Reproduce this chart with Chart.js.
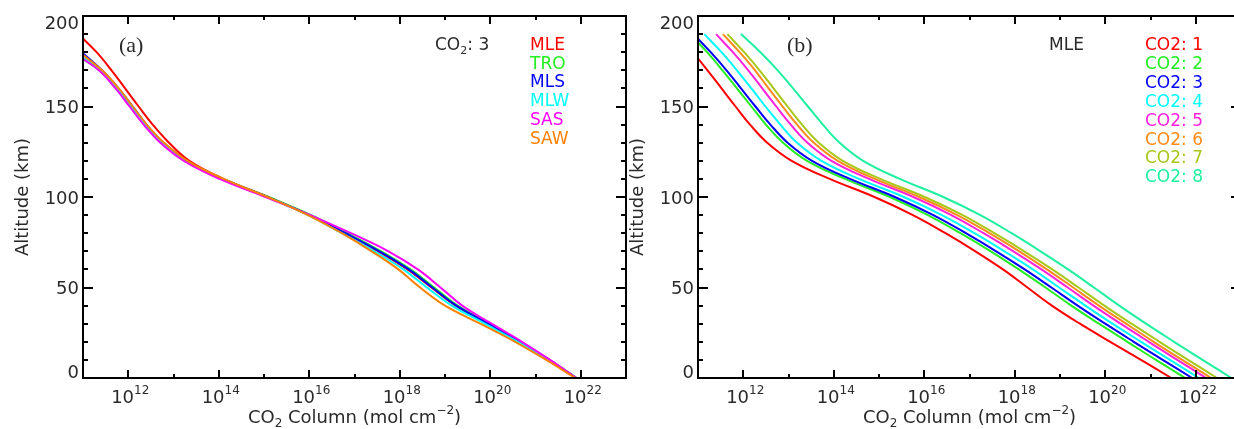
<!DOCTYPE html>
<html>
<head>
<meta charset="utf-8">
<script src="https://cdn.jsdelivr.net/npm/chart.js@4/dist/chart.umd.min.js"></script>
<style>
    html, body { margin: 0; padding: 0; background: #fff; overflow: hidden; width: 1234px; height: 429px; }
    #left-chart { position: absolute; left: 0; top: 0; }
    #right-chart { position: absolute; left: 628px; top: 0; }
</style>
</head>
<body>
<canvas id="left-chart" width="628" height="429"></canvas>
<canvas id="right-chart" width="652" height="429"></canvas>
<script>
// CO2 column vs altitude, two panels: (a) atmospheres at CO2 scenario 3, (b) MLE at CO2 scenarios 1-8

// Altitude grid (km), shared by every curve
const ALTITUDES = [190, 180, 170, 160, 150, 140, 130, 120, 110, 100, 90, 80, 70, 60, 50, 40, 30, 20, 10, 0];

// Column values stored as log10(mol cm^-2), one per altitude above
const ATMOS_NAMES = ['MLE', 'TRO', 'MLS', 'MLW', 'SAS', 'SAW'];
const ATMOS_COLORS = ['#ff0000', '#22ee22', '#0000ff', '#00ffff', '#ff00ff', '#ff8000'];
const colMLE = [10.9, 11.3, 11.63, 11.93, 12.23, 12.54, 12.9, 13.35, 14.1, 15.08, 16.0, 16.78, 17.52, 18.17, 18.7, 19.23, 19.93, 20.64, 21.29, 21.9];
const colTRO = [10.38, 10.78, 11.36, 11.73, 12.05, 12.36, 12.74, 13.27, 14.09, 15.1, 16.04, 16.84, 17.59, 18.24, 18.76, 19.28, 19.97, 20.67, 21.31, 21.91];
const colMLS = [10.52, 10.97, 11.42, 11.78, 12.1, 12.4, 12.77, 13.29, 14.09, 15.08, 16.0, 16.8, 17.55, 18.2, 18.72, 19.25, 19.95, 20.65, 21.3, 21.9];
const colMLW = [10.45, 10.88, 11.39, 11.75, 12.07, 12.38, 12.75, 13.27, 14.07, 15.06, 15.97, 16.72, 17.44, 18.08, 18.6, 19.15, 19.88, 20.61, 21.28, 21.89];
const colSAS = [10.4, 10.8, 11.35, 11.72, 12.03, 12.34, 12.71, 13.23, 14.02, 15.03, 16.02, 16.92, 17.75, 18.4, 18.9, 19.38, 20.03, 20.7, 21.32, 21.9];
const colSAW = [10.5, 10.93, 11.42, 11.79, 12.1, 12.41, 12.79, 13.31, 14.11, 15.08, 15.97, 16.72, 17.38, 17.97, 18.45, 19.0, 19.78, 20.55, 21.24, 21.88];

const CO2_NAMES = ['CO2: 1', 'CO2: 2', 'CO2: 3', 'CO2: 4', 'CO2: 5', 'CO2: 6', 'CO2: 7', 'CO2: 8'];
const CO2_COLORS = ['#ff0000', '#22ee22', '#0000ff', '#00ffff', '#ff22dd', '#ff8a1a', '#a8c81a', '#1ef0a0'];
const co2s1 = [10.5, 10.88, 11.21, 11.52, 11.83, 12.15, 12.53, 13.07, 13.91, 14.9, 15.75, 16.47, 17.13, 17.74, 18.28, 18.82, 19.44, 20.11, 20.79, 21.46];
const co2s2 = [10.82, 11.2, 11.54, 11.86, 12.18, 12.5, 12.88, 13.41, 14.25, 15.24, 16.08, 16.8, 17.47, 18.09, 18.68, 19.25, 19.86, 20.49, 21.12, 21.77];
const co2s3 = [10.9, 11.28, 11.63, 11.95, 12.27, 12.6, 12.98, 13.52, 14.36, 15.35, 16.2, 16.92, 17.59, 18.22, 18.81, 19.39, 20.0, 20.63, 21.27, 21.92];
const co2s4 = [11.14, 11.52, 11.86, 12.18, 12.49, 12.82, 13.19, 13.73, 14.56, 15.55, 16.39, 17.11, 17.77, 18.4, 18.98, 19.56, 20.16, 20.79, 21.43, 22.07];
const co2s5 = [11.4, 11.77, 12.11, 12.42, 12.73, 13.05, 13.42, 13.95, 14.78, 15.76, 16.6, 17.31, 17.97, 18.59, 19.17, 19.74, 20.34, 20.96, 21.59, 22.23];
const co2s6 = [11.55, 11.92, 12.26, 12.56, 12.87, 13.19, 13.56, 14.09, 14.91, 15.89, 16.73, 17.44, 18.1, 18.71, 19.29, 19.86, 20.46, 21.07, 21.7, 22.34];
const co2s7 = [11.65, 12.02, 12.36, 12.67, 12.98, 13.3, 13.67, 14.2, 15.03, 16.01, 16.85, 17.55, 18.21, 18.83, 19.41, 19.98, 20.58, 21.2, 21.83, 22.47];
const co2s8 = [11.95, 12.38, 12.76, 13.1, 13.43, 13.76, 14.13, 14.65, 15.46, 16.42, 17.24, 17.93, 18.57, 19.18, 19.75, 20.31, 20.9, 21.52, 22.15, 22.79];

// Axes
const X_MIN_EXP = 11;
const X_MAX_EXP = 23;
const X_LABEL_EXPS = [12, 14, 16, 18, 20, 22];
const Y_TICKS = [0, 50, 100, 150, 200];

const FONT = '"DejaVu Sans", sans-serif';
const TEXT_COLOR = '#2a2a2a';

// Draw a run of text pieces (normal / sub / sup) starting at x
function richWidth(ctx, parts) {
    let w = 0;
    for (const p of parts) {
        ctx.font = `${p.size}px ${FONT}`;
        w += ctx.measureText(p.t).width;
    }
    return w;
}
function drawRich(ctx, parts, x, y, align) {
    let cx = align === 'center' ? x - richWidth(ctx, parts) / 2 : x;
    ctx.textAlign = 'left';
    ctx.textBaseline = 'alphabetic';
    for (const p of parts) {
        ctx.font = `${p.size}px ${FONT}`;
        ctx.fillText(p.t, cx, y + (p.dy || 0));
        cx += ctx.measureText(p.t).width;
    }
}

// Frame, inward ticks, labels and titles, IDL style
const idlAxes = {
    id: 'idlAxes',
    afterDraw(chart, args, opts) {
        const { ctx, chartArea: a, scales: { x, y } } = chart;
        ctx.save();
        ctx.strokeStyle = '#000';
        ctx.lineWidth = 2;
        ctx.strokeRect(a.left, a.top, a.right - a.left, a.bottom - a.top);

        ctx.beginPath();
        for (let e = X_MIN_EXP + 1; e < X_MAX_EXP; e++) {
            const px = Math.round(x.getPixelForValue(Math.pow(10, e)));
            const len = e % 2 === 0 ? 8 : 4;
            ctx.moveTo(px, a.bottom); ctx.lineTo(px, a.bottom - len);
            ctx.moveTo(px, a.top); ctx.lineTo(px, a.top + len);
        }
        for (let v = 10; v < 200; v += 10) {
            const py = Math.round(y.getPixelForValue(v));
            const len = v % 50 === 0 ? 10 : 5;
            ctx.moveTo(a.left, py); ctx.lineTo(a.left + len, py);
            ctx.moveTo(a.right, py); ctx.lineTo(a.right - len, py);
        }
        ctx.stroke();

        ctx.fillStyle = TEXT_COLOR;
        // y tick labels
        ctx.font = `18px ${FONT}`;
        ctx.textAlign = 'right';
        Y_TICKS.forEach(v => {
            const py = y.getPixelForValue(v);
            let by = py + 6.5;
            if (v === 200) by = py + 13;
            if (v === 0) by = py;
            ctx.fillText(String(v), a.left - 4, by);
        });
        // x tick labels 10^n
        X_LABEL_EXPS.forEach(e => {
            const px = x.getPixelForValue(Math.pow(10, e));
            drawRich(ctx, [{ t: '10', size: 18 }, { t: String(e), size: 12, dy: -9 }], px + 2, a.bottom + 25, 'center');
        });
        // x title
        drawRich(ctx, [
            { t: 'CO', size: 18 }, { t: '2', size: 12, dy: 4 },
            { t: ' Column (mol cm', size: 18 }, { t: '\u22122', size: 12, dy: -9 }, { t: ')', size: 18 }
        ], (a.left + a.right) / 2, 423, 'center');
        // y title
        ctx.save();
        ctx.translate(opts.yTitleX, (a.top + a.bottom) / 2);
        ctx.rotate(-Math.PI / 2);
        ctx.font = `18px ${FONT}`;
        ctx.textAlign = 'center';
        ctx.fillText('Altitude (km)', 0, 0);
        ctx.restore();

        // panel tag
        ctx.font = '22px "Liberation Serif", serif';
        ctx.textAlign = 'left';
        ctx.fillText(opts.tag, opts.tagX, 52);

        // header text and coloured legend
        ctx.fillStyle = TEXT_COLOR;
        drawRich(ctx, opts.header, opts.headerX, 50, 'left');
        ctx.font = `17px ${FONT}`;
        ctx.textAlign = 'left';
        opts.names.forEach((n, i) => {
            ctx.fillStyle = opts.colors[i];
            ctx.fillText(n, opts.legendX, 50 + i * opts.legendStep);
        });
        ctx.restore();
    }
};

function buildDatasets(series, colors) {
    return series.map((col, i) => ({
        data: col.map((e, k) => ({ x: Math.pow(10, e), y: ALTITUDES[k] })),
        borderColor: colors[i],
        borderWidth: 2,
        pointRadius: 0,
        tension: 0.4,
        order: series.length - i
    }));
}

function makeChart(canvasId, datasets, padding, axesOpts) {
    return new Chart(document.getElementById(canvasId), {
        type: 'line',
        data: { datasets },
        options: {
            responsive: false,
            animation: false,
            devicePixelRatio: 1,
            layout: { padding },
            plugins: { legend: { display: false }, tooltip: { enabled: false }, idlAxes: axesOpts },
            scales: {
                x: { type: 'logarithmic', min: Math.pow(10, X_MIN_EXP), max: Math.pow(10, X_MAX_EXP), display: false },
                y: { type: 'linear', min: 0, max: 200, display: false }
            }
        },
        plugins: [idlAxes]
    });
}

makeChart('left-chart',
    buildDatasets([colMLE, colTRO, colMLS, colMLW, colSAS, colSAW], ATMOS_COLORS),
    { left: 83, top: 16, right: 2, bottom: 51 },
    {
        tag: '(a)', tagX: 119, yTitleX: 28,
        header: [{ t: 'CO', size: 17 }, { t: '2', size: 11, dy: 4 }, { t: ': 3', size: 17 }], headerX: 435,
        names: ATMOS_NAMES, colors: ATMOS_COLORS, legendX: 530, legendStep: 18.7
    });

makeChart('right-chart',
    buildDatasets([co2s1, co2s2, co2s3, co2s4, co2s5, co2s6, co2s7, co2s8], CO2_COLORS),
    { left: 70, top: 16, right: 39, bottom: 51 },
    {
        tag: '(b)', tagX: 159, yTitleX: 15,
        header: [{ t: 'MLE', size: 17 }], headerX: 421,
        names: CO2_NAMES, colors: CO2_COLORS, legendX: 517, legendStep: 18.9
    });
</script>
</body>
</html>
